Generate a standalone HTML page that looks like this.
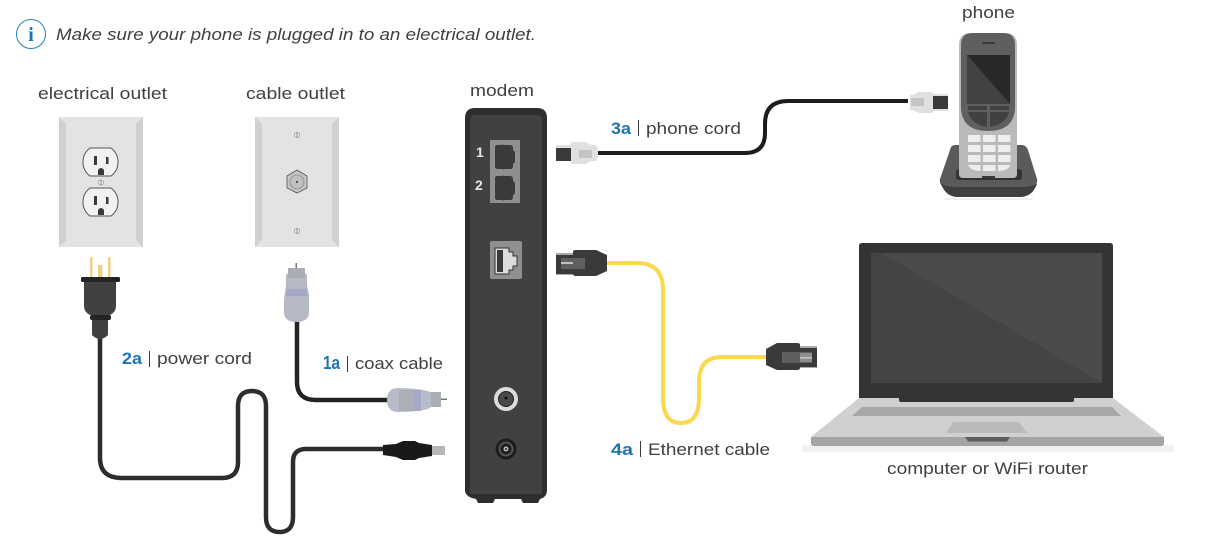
<!DOCTYPE html>
<html><head><meta charset="utf-8"><style>
html,body{margin:0;padding:0;background:#fff;width:1213px;height:549px;overflow:hidden}
svg{display:block}
text{font-family:"Liberation Sans",sans-serif;font-size:17px;fill:#404042}
.b{fill:#1b75b3;font-weight:bold}
</style></head><body>
<svg width="1213" height="549" viewBox="0 0 1213 549" xmlns="http://www.w3.org/2000/svg">
<defs>
<g id="rec">
<path d="M90 0H111C115 3 118 8 118 14C118 20 115 25 111 28H90C86 25 83 20 83 14C83 8 86 3 90 0Z" fill="#f1f1f1" stroke="#555" stroke-width="1"/>
<rect x="94" y="8" width="3" height="9" fill="#3a3a3c"/><rect x="106" y="9" width="2.500" height="7" fill="#3a3a3c"/>
<path d="M98 27V22Q101 18 104 22V27Z" fill="#3a3a3c"/>
</g>
<g id="rj"><path d="M2 1Q2 -1 5 -1H9Q10 -2 11 -1H17Q20 -1 20 2V4Q22 5 22 7V15Q22 17 20 18V20Q20 23 17 23H11Q10 24 9 23H5Q2 23 2 21Z" fill="#3a3a3c" transform="translate(-1 0)"/></g>
<g id="scr"><circle r="2.600" fill="#eee" stroke="#888" stroke-width=".6"/><rect x="-.4" y="-2.500" width=".8" height="5" fill="#777"/></g>
</defs>

<!-- info -->
<circle cx="31" cy="34" r="14.500" fill="#fff" stroke="#2a80ba" stroke-width="1"/>
<text x="31" y="41" text-anchor="middle" style="font-family:'Liberation Serif',serif;font-weight:bold;font-size:20px;fill:#1b75b3">i</text>
<text x="56" y="40" textLength="480" lengthAdjust="spacingAndGlyphs" style="font-style:italic">Make sure your phone is plugged in to an electrical outlet.</text>

<text x="38" y="99" textLength="129" lengthAdjust="spacingAndGlyphs">electrical outlet</text>
<text x="246" y="99" textLength="99" lengthAdjust="spacingAndGlyphs">cable outlet</text>
<text x="470" y="96" textLength="64" lengthAdjust="spacingAndGlyphs">modem</text>
<text x="962" y="18" textLength="53" lengthAdjust="spacingAndGlyphs">phone</text>
<text x="887" y="474" textLength="201" lengthAdjust="spacingAndGlyphs">computer or WiFi router</text>

<text class="b" x="611" y="134" textLength="20" lengthAdjust="spacingAndGlyphs">3a</text><rect x="638" y="120" width="1" height="16" fill="#3a3a3c"/>
<text x="646" y="134" textLength="95" lengthAdjust="spacingAndGlyphs">phone cord</text>
<text class="b" x="122" y="364" textLength="20" lengthAdjust="spacingAndGlyphs">2a</text><rect x="149" y="351" width="1" height="16" fill="#3a3a3c"/>
<text x="157" y="364" textLength="95" lengthAdjust="spacingAndGlyphs">power cord</text>
<text class="b" x="323" y="369" style="font-size:18px" textLength="17" lengthAdjust="spacingAndGlyphs">1a</text><rect x="347" y="356" width="1" height="16" fill="#3a3a3c"/>
<text x="355" y="369" textLength="88" lengthAdjust="spacingAndGlyphs">coax cable</text>
<text class="b" x="611" y="455" textLength="22" lengthAdjust="spacingAndGlyphs">4a</text><rect x="640" y="441" width="1" height="16" fill="#3a3a3c"/>
<text x="648" y="455" textLength="122" lengthAdjust="spacingAndGlyphs">Ethernet cable</text>

<!-- electrical outlet -->
<rect x="59" y="117" width="84" height="130" fill="#e2e3e4"/>
<path d="M59 117L66 124V240L59 247Z" fill="#cfd0d1"/><path d="M143 117L136 124V240L143 247Z" fill="#cfd0d1"/>
<use href="#rec" y="148"/><use href="#rec" y="188"/>
<use href="#scr" x="101" y="182.500"/>

<!-- cable outlet -->
<rect x="255" y="117" width="84" height="130" fill="#e2e3e4"/>
<path d="M255 117L262 124V240L255 247Z" fill="#cfd0d1"/><path d="M339 117L332 124V240L339 247Z" fill="#cfd0d1"/>
<use href="#scr" x="297" y="135"/>
<use href="#scr" x="297" y="231"/>
<path d="M297 170L307 176V188L297 193L287 188V176Z" fill="#c4c5c6" stroke="#555" stroke-width=".8"/>
<circle cx="297" cy="182" r="7" fill="#bfc0c1" stroke="#8a8a8a" stroke-width=".8"/><circle cx="297" cy="182" r="1" fill="#333"/>

<!-- cords -->
<g fill="none" stroke-linecap="butt">
<path d="M100 336V458Q100 478 122 478H222Q238 478 238 462V406Q238 391 252 391Q266 391 266 406V517Q266 532 279.500 532Q293 532 293 517V462Q293 449 306 449H385" stroke="#2d2d30" stroke-width="4.500"/>
<path d="M297 320V382Q297 400 316 400H390" stroke="#232326" stroke-width="4.500"/>
<path d="M597 153H745Q765 153 765 133V124Q765 101 788 101H908" stroke="#1c1c1e" stroke-width="4"/>
<path d="M606 263H637Q663 263 663 290V398Q663 423 681 423Q699 423 699 398V382Q699 357 722 357H768" stroke="#fad84f" stroke-width="4"/>
</g>

<!-- power plug -->
<rect x="90" y="257" width="2.500" height="20" fill="#ecd08c"/><rect x="108" y="257" width="2.500" height="20" fill="#ecd08c"/>
<rect x="98" y="265" width="4.500" height="13" fill="#ecd08c"/>
<rect x="81" y="277" width="39" height="5" rx="1.500" fill="#232326"/>
<path d="M84 282H116V306Q116 312 110 315H90Q84 312 84 306Z" fill="#414143"/>
<rect x="90" y="315" width="21" height="5" rx="2" fill="#232326"/>
<path d="M92 320H108V335Q104 339 100 339Q96 339 92 335Z" fill="#414143"/>

<!-- coax vertical -->
<rect x="295.500" y="263" width="1.500" height="6" fill="#777"/>
<path d="M289 268H304V272L307 275V285L309 295V312Q309 322 296.500 322Q284 322 284 312V300L286 285V275L289 272Z" fill="#b5b9c4"/>
<rect x="288" y="268" width="17" height="10" fill="#aaadb3"/>
<path d="M287 289H306L307.500 296H285.500Z" fill="#a5a8c6"/>
<!-- coax horizontal -->
<rect x="441" y="398.500" width="6" height="1.500" fill="#777"/>
<path d="M441 394V405H434L428 409Q416 412 398 412Q387 412 387 400Q387 388 398 388Q416 388 428 391L434 394Z" fill="#b8bcc8"/>
<rect x="431" y="392" width="10" height="15" fill="#aaadb3"/>
<rect x="413" y="390" width="8" height="21" fill="#a5a8c6"/>
<rect x="399" y="390" width="14" height="21" fill="#acafb6"/>

<!-- black plug -->
<rect x="432" y="446" width="13" height="9" fill="#b5b6b8"/>
<path d="M383 445L396 444L403 441H415L419 443L432 445V456L419 458L415 460H403L396 457L383 455Z" fill="#19191b"/>

<!-- modem -->
<path d="M465 118Q465 108 475 108H537Q547 108 547 118V490Q547 497 540 499L538 503H523L521 499H495L493 503H478L476 499Q465 497 465 490Z" fill="#2e2e30"/>
<path d="M470 120Q470 115 475 115H537Q542 115 542 120V494H470Z" fill="#414143"/>
<rect x="490" y="140" width="30" height="63" fill="#8f8f91"/>
<use href="#rj" x="494" y="146"/><use href="#rj" x="494" y="177"/>
<text x="476" y="157" style="fill:#e6e6e6;font-size:14px;font-weight:bold">1</text>
<text x="475" y="190" style="fill:#e6e6e6;font-size:14px;font-weight:bold">2</text>
<rect x="490" y="241" width="32" height="38" rx="2" fill="#8f8f91"/>
<path d="M495 248H509V252H513V256H517V266H513V270H509V274H495Z" fill="#dcdcdd" stroke="#333" stroke-width="1"/>
<rect x="497" y="250" width="6" height="22" fill="#3a3a3c"/>
<circle cx="506" cy="399" r="12" fill="#dcdcdd"/><circle cx="506" cy="399" r="7.500" fill="#4a4a4c" stroke="#222" stroke-width="1"/><circle cx="506" cy="398" r="1.500" fill="#111"/>
<circle cx="506" cy="449" r="10.500" fill="#1d1d1f"/><circle cx="506" cy="449" r="7.500" fill="#555"/><circle cx="506" cy="449" r="5.500" fill="#1d1d1f"/><circle cx="506" cy="449" r="2.500" fill="#bbb"/><circle cx="506" cy="449" r="1" fill="#222"/>

<!-- phone plug left -->
<path d="M556 145H570L572 142H585L592 145H596L598 149V157L596 161H592L585 164H572L570 161H556Z" fill="#dfe0e0"/>
<rect x="556" y="148" width="15" height="13" fill="#3a3a3c"/>
<rect x="579" y="150" width="13" height="8" fill="#c3c4c5"/>
<!-- phone plug right -->
<path d="M948 94H934L932 92H919L912 95H910V110H912L919 113H932L934 111H948Z" fill="#dfe0e0"/>
<rect x="933" y="96" width="15" height="13" fill="#3a3a3c"/>
<rect x="911" y="98" width="13" height="8" fill="#c3c4c5"/>

<!-- ethernet plug left -->
<rect x="556" y="253" width="20" height="22" fill="#a8a9aa"/>
<rect x="556" y="255" width="18" height="19" fill="#3a3a3c"/>
<path d="M573 252Q573 250 576 250H596L607 255V271L596 276H576Q573 276 573 274Z" fill="#3a3a3c"/>
<rect x="561" y="258" width="24" height="11" fill="#5f5f61"/>
<rect x="561" y="262" width="12" height="2" fill="#bfbfc0"/>
<!-- ethernet plug right -->
<rect x="797" y="346" width="20" height="22" fill="#a8a9aa"/>
<rect x="799" y="348" width="18" height="19" fill="#3a3a3c"/>
<path d="M800 345Q800 343 797 343H777L766 349V365L777 370H797Q800 370 800 368Z" fill="#3a3a3c"/>
<rect x="782" y="352" width="30" height="11" fill="#5f5f61"/>
<rect x="800" y="353" width="12" height="9" fill="#8d8d8f"/>
<rect x="800" y="357" width="12" height="1.500" fill="#c6c6c7"/>

<!-- phone -->
<rect x="945" y="198" width="88" height="2" fill="#f0f0f0"/>
<path d="M955 145H1022Q1026 145 1028 150L1037 179Q1038 184 1034 187Q1030 197 1020 197H958Q948 197 943 187Q939 184 940 179L950 150Q951 145 955 145Z" fill="#5b5b5d"/>
<path d="M941 184Q948 187 958 187H1020Q1030 187 1037 184Q1032 197 1020 197H958Q946 197 941 184Z" fill="#3f3f41"/>
<rect x="956" y="169" width="66" height="11" rx="3" fill="#333335"/>
<path d="M959 45Q959 33 971 33H1005Q1017 33 1017 45V174Q1017 178 1013 178H963Q959 178 959 174Z" fill="#b9babb"/>
<path d="M961 108V45Q961 33 973 33H1003Q1015 33 1015 45V108Q1014 131 988 131Q962 131 961 108Z" fill="#5f5f61"/>
<rect x="982" y="42" width="13" height="2" rx="1" fill="#3a3a3c"/>
<rect x="967" y="55" width="43" height="49" fill="#29292b"/>
<path d="M967 55L1010 104H967Z" fill="#424244"/>
<rect x="968" y="106" width="19" height="4" fill="#414143"/><rect x="990" y="106" width="19" height="4" fill="#414143"/>
<path d="M968 112H987V127Q971 124 968 112Z" fill="#414143"/>
<path d="M990 112H1009Q1006 124 990 127Z" fill="#414143"/>
<g fill="#eeeeef">
<rect x="968" y="135" width="12.500" height="7"/><rect x="983" y="135" width="12.500" height="7"/><rect x="998" y="135" width="12.500" height="7"/>
<rect x="968" y="145" width="12.500" height="7"/><rect x="983" y="145" width="12.500" height="7"/><rect x="998" y="145" width="12.500" height="7"/>
<rect x="968" y="155" width="12.500" height="7"/><rect x="983" y="155" width="12.500" height="7"/><rect x="998" y="155" width="12.500" height="7"/>
<path d="M968 165H980.500V171Q971 171 968 165Z"/><rect x="983" y="165" width="12.500" height="6"/><path d="M998 165H1010.500Q1008 171 998 171Z"/>
</g>
<rect x="982" y="176" width="13" height="2" fill="#3a3a3c"/>

<!-- laptop -->
<rect x="802" y="445" width="372" height="7" rx="3" fill="#f1f1f1"/>
<path d="M859 246Q859 243 862 243H1110Q1113 243 1113 246V400H859Z" fill="#343436"/>
<rect x="871" y="253" width="231" height="130" fill="#4b4b4d"/>
<path d="M871 253H882L1102 383H871Z" fill="#444446"/>
<path d="M859 398H1113L1164 437H811Z" fill="#cfd0d2"/>
<path d="M811 437H1164V443Q1164 446 1161 446H814Q811 446 811 443Z" fill="#a3a4a6"/>
<path d="M899 398H1074V400Q1074 402 1072 402H901Q899 402 899 400Z" fill="#343436"/>
<path d="M862 407H1112L1121 416H852Z" fill="#a6a7a9"/>
<path d="M953 422H1019L1027 433H946Z" fill="#b9babc"/>
<path d="M965 437H1010L1007 441.500H968Z" fill="#5c5c5e"/>
</svg>
</body></html>
